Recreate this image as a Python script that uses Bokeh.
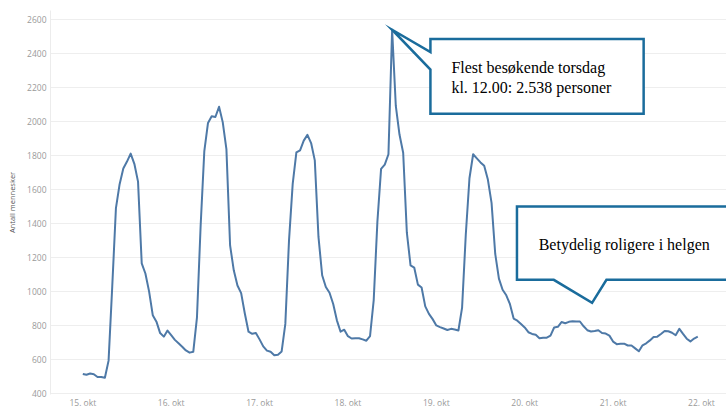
from bokeh.plotting import figure
from bokeh.models import FixedTicker, Label
from bokeh.embed import file_html
from bokeh.resources import INLINE

# ---- data (hourly visitor counts, 15. okt 00:00 -> 21. okt 23:00) ----
hours = list(range(168))
visitors = [
    515, 510, 517, 513, 497, 497, 492, 593, 1030, 1490, 1630, 1722, 1763, 1810, 1750, 1645, 1165, 1105, 1000, 860, 822, 755, 734, 770,
    743, 715, 695, 675, 653, 640, 645, 846, 1386, 1825, 1990, 2030, 2025, 2085, 1995, 1836, 1270, 1124, 1035, 990, 870, 763, 751, 756,
    718, 677, 652, 645, 625, 628, 647, 809, 1300, 1632, 1817, 1829, 1886, 1920, 1872, 1770, 1320, 1095, 1026, 992, 926, 830, 763, 775,
    737, 723, 725, 725, 718, 710, 737, 949, 1410, 1720, 1745, 1806, 2538, 2090, 1922, 1815, 1345, 1153, 1140, 1040, 1023, 912, 868, 837,
    800, 790, 782, 773, 780, 776, 770, 905, 1333, 1665, 1806, 1782, 1758, 1738, 1657, 1520, 1220, 1075, 1010, 977, 925, 840, 828, 808,
    788, 760, 750, 745, 725, 728, 728, 740, 788, 792, 820, 813, 821, 824, 823, 823, 795, 772, 764, 767, 772, 755, 752, 740,
    705, 690, 692, 693, 682, 682, 665, 648, 683, 695, 712, 732, 734, 750, 767, 766, 757, 742, 780, 750, 722, 706, 723, 734,
]
day_ticks = [0, 24, 48, 72, 96, 120, 144, 168]
day_labels = ["15. okt", "16. okt", "17. okt", "18. okt", "19. okt", "20. okt", "21. okt", "22. okt"]
y_ticks = [400, 600, 800, 1000, 1200, 1400, 1600, 1800, 2000, 2200, 2400, 2600]
y_title = "Antall mennesker"
peak_lines = ["Flest besøkende torsdag", "kl. 12.00: 2.538 personer"]
weekend_text = "Betydelig roligere i helgen"

peak_v = max(visitors)
peak_h = hours[visitors.index(peak_v)]

p = figure(width=726, height=410, x_range=(-8.77, 174.8), y_range=(394, 2651),
           output_backend="svg", toolbar_location=None,
           min_border_left=50, min_border_right=0, min_border_top=10, min_border_bottom=0,
           background_fill_color="white", border_fill_color="white")
p.outline_line_color = None

p.xgrid.grid_line_color = None
p.ygrid.grid_line_color = "#eeeeee"
p.ygrid.grid_line_width = 1

p.yaxis.ticker = FixedTicker(ticks=y_ticks)
p.yaxis.major_tick_out = 0
p.yaxis.major_tick_in = 0
p.yaxis.minor_tick_out = 0
p.yaxis.minor_tick_in = 0
p.yaxis.major_tick_line_color = None
p.yaxis.minor_tick_line_color = None
p.yaxis.axis_line_color = "#ececec"
p.yaxis.major_label_text_font = "Open Sans"
p.yaxis.major_label_text_font_size = "8.5px"
p.yaxis.major_label_text_color = "#9a9a9a"
p.yaxis.major_label_standoff = 4
p.yaxis.axis_label = y_title
p.yaxis.axis_label_text_font = "Open Sans"
p.yaxis.axis_label_text_font_size = "7.5px"
p.yaxis.axis_label_text_font_style = "normal"
p.yaxis.axis_label_text_color = "#555555"
p.yaxis.axis_label_standoff = 7

p.xaxis.ticker = FixedTicker(ticks=day_ticks)
p.xaxis.major_label_overrides = {t: l for t, l in zip(day_ticks, day_labels)}
p.xaxis.major_tick_out = 0
p.xaxis.major_tick_in = 0
p.xaxis.minor_tick_out = 0
p.xaxis.minor_tick_in = 0
p.xaxis.major_tick_line_color = None
p.xaxis.minor_tick_line_color = None
p.xaxis.axis_line_color = None
p.xaxis.major_label_text_font = "Open Sans"
p.xaxis.major_label_text_font_size = "8.5px"
p.xaxis.major_label_text_color = "#9a9a9a"
p.xaxis.major_label_standoff = 2

p.line(hours, visitors, line_color="#4E79A7", line_width=2, line_join="round")

box_color = "#1A6C9C"
# callout 1 (points at the peak)
c1_x = [peak_h, 94.4, 94.4, 152.3, 152.3, 94.4, 94.4]
c1_y = [peak_v, 2407, 2484, 2484, 2044, 2044, 2304]
p.patch(c1_x, c1_y, fill_color="white", line_color=box_color, line_width=2.5, line_join="miter")
# callout 2 (weekend) - runs off the right edge
c2_x = [117.9, 200, 200, 142.2, 138.3, 127.9, 117.9]
c2_y = [1499, 1499, 1068, 1068, 933, 1068, 1068]
p.patch(c2_x, c2_y, fill_color="white", line_color=box_color, line_width=2.5, line_join="miter")

for txt, yy in zip(peak_lines, [2314, 2199]):
    p.add_layout(Label(x=100.1, y=yy, text=txt, text_font="Liberation Serif",
                       text_font_size="16px", text_baseline="middle", text_color="black"))
p.add_layout(Label(x=123.8, y=1276, text=weekend_text, text_font="Liberation Serif",
                   text_font_size="16px", text_baseline="middle", text_color="black"))

open("out.html", "w").write(file_html(p, INLINE))
